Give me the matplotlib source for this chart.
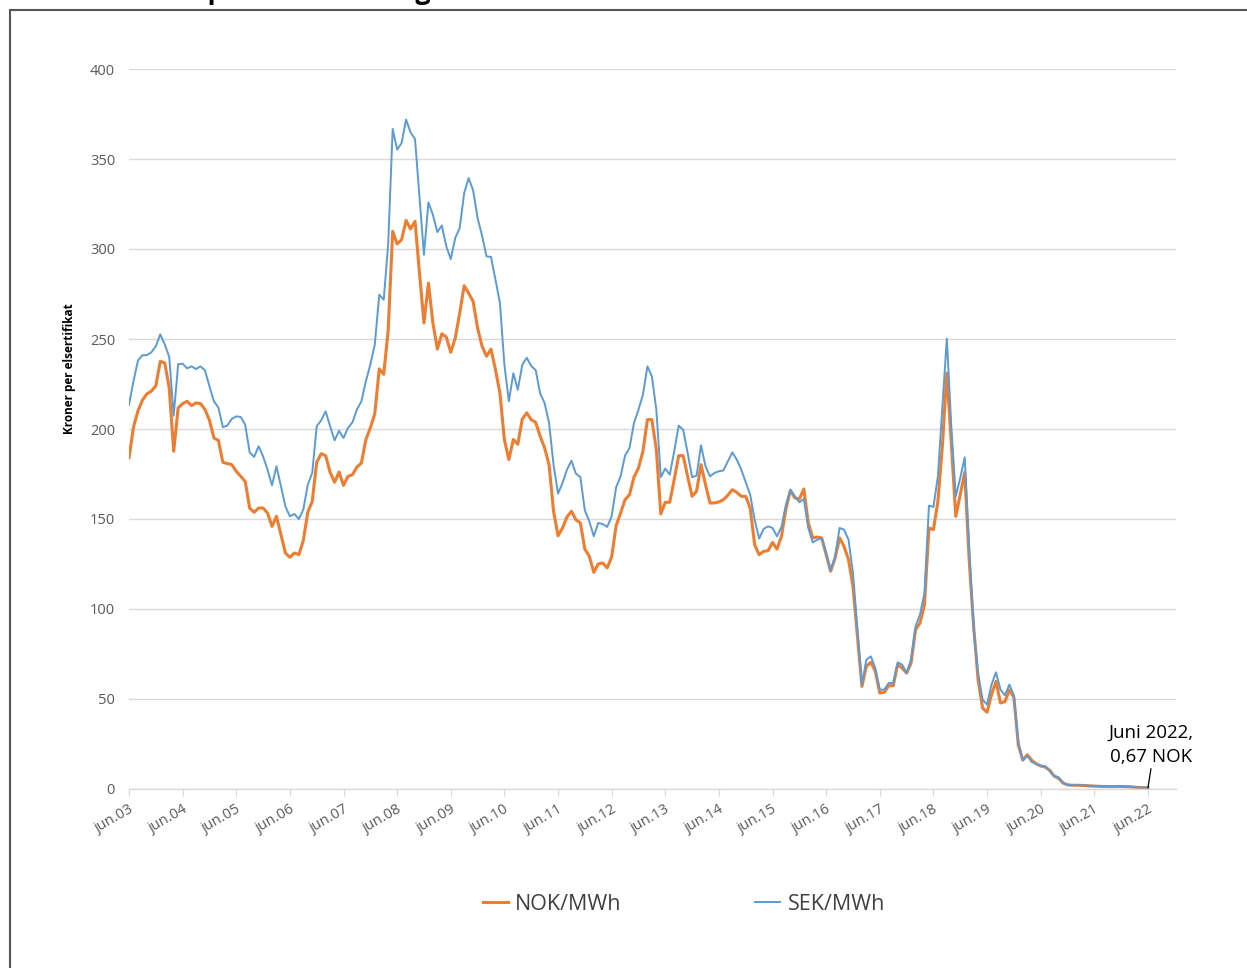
import numpy as np
import matplotlib
matplotlib.use("Agg")
import matplotlib.pyplot as plt
from matplotlib.patches import Rectangle

plt.rcParams['font.family'] = ['Open Sans', 'DejaVu Sans']

# ---- data (monthly, index 0 = June 2003) ----
tick_years = list(range(2003, 2023))
tick_labels = [f"jun.{y % 100:02d}" for y in tick_years]

sek = [213.5, 226.5, 238, 241, 241, 242.6, 246, 252.6, 247, 240,
       207.4, 236, 236.3, 233.7, 234.8, 233.3, 234.8, 232.6, 223.7, 215.4,
       212, 201, 201.9, 205.6, 207, 206.7, 202.4, 187, 184.5, 190.4,
       184.8, 177.4, 168.7, 179.3, 168.2, 157, 151.5, 152.8, 150, 155.2,
       169, 175.6, 201.5, 204.8, 209.8, 201.5, 193.7, 199, 195, 200.6,
       203.7, 210.8, 215.4, 226.5, 235.8, 247, 274.6, 271.8, 303, 366.7,
       355.2, 358.9, 371.9, 364.8, 361.1, 329.3, 296.8, 325.9, 319, 309.4,
       313, 301.5, 294.4, 306.1, 311.7, 331.1, 339.4, 332.6, 317.2, 307.4,
       295.9, 295.6, 283, 270, 235.7, 215.4, 231, 221.8, 235.6, 239.6,
       235, 232.7, 219.8, 214.4, 203.3, 180, 164.1, 170, 177.4, 182.4,
       175.2, 173.3, 154.8, 148.7, 140.4, 147.8, 147.2, 145.6, 151.5, 167.6,
       173.7, 185.2, 189.5, 203.4, 210.7, 219.1, 234.8, 229.3, 210.7, 173.3,
       178, 174.6, 187.6, 201.9, 199.6, 186.7, 173.2, 174.1, 190.9, 179.3,
       173.7, 175.6, 176.5, 177, 182, 187, 183, 177.4, 170.4, 163.5,
       149.6, 139.1, 144.5, 145.9, 145, 140.4, 145.6, 158, 166.3, 162.6,
       159.3, 161.1, 145, 137, 138.5, 139.5, 131.1, 121.5, 129.3, 145,
       144.1, 138.5, 120, 88.5, 58, 71.9, 73.7, 67.2, 55.2, 55.2,
       58.9, 58.9, 70.4, 69.1, 64.4, 71.9, 90.4, 96.9, 108.9, 157.4,
       156.7, 173.7, 211.7, 250.2, 201.5, 162.6, 172.8, 184.3, 134.8, 88.5,
       64.4, 49.6, 46.9, 58, 64.8, 55.2, 52, 58, 52, 26,
       16, 18.5, 15, 14, 13, 12.7, 10, 7.2, 6.5, 3.5,
       2.3, 2.2, 2.2, 2.1, 2.0, 1.8, 1.7, 1.6, 1.5, 1.5,
       1.4, 1.5, 1.5, 1.4, 1.3, 1.1, 0.9, 0.8, 0.7]

nok = [184, 201, 210, 216, 219.5, 221, 224, 237.6, 236.7, 222.8,
       187.6, 211.7, 214.1, 215.4, 213, 214.5, 214.1, 210.8, 204.8, 195,
       193.7, 181.5, 180.8, 180.2, 176.5, 173.7, 170.9, 156.1, 153.7, 156.1,
       156.1, 153.3, 145.9, 151.5, 141.3, 131.1, 128.7, 131.1, 130.2, 138,
       153.7, 159.8, 181.5, 186.3, 185.2, 175.9, 170.4, 176.1, 168.7, 173.7,
       174.6, 178.9, 181.1, 194.1, 200.6, 208.5, 233.4, 230.4, 255, 309.8,
       302.8, 305.2, 315.9, 311.1, 315.4, 286.7, 258.9, 281.1, 258.9, 244.4,
       252.9, 251.1, 242.6, 250.5, 264.4, 279.6, 275.5, 270.9, 256.1, 246,
       240.4, 244.4, 233, 220, 194, 183, 194.2, 191.5, 205.5, 209,
       205.2, 203.7, 196, 189.5, 180, 154.3, 140.7, 145, 151.1, 154.3,
       149.6, 147.8, 133.3, 129.3, 120.4, 125, 125.6, 122.8, 128.9, 146.3,
       153.3, 160.7, 163.5, 173.3, 178.3, 187.6, 205.2, 205.2, 188.5, 152.8,
       159.3, 159.3, 171.9, 185.2, 185.2, 173.7, 162.6, 165.4, 180.2, 169.1,
       158.9, 158.9, 159.5, 160.7, 163.2, 166.3, 164.8, 162.6, 162.6, 156.1,
       135.7, 130.2, 132, 132.4, 137, 133.3, 140.4, 155.6, 165.9, 161.7,
       161.1, 166.7, 147.8, 139.5, 140, 139.5, 130.2, 121, 128.3, 139.5,
       134.8, 127.4, 112.6, 84.8, 57, 68.2, 70.4, 65.4, 53.3, 53.7,
       57.4, 57.4, 69.1, 67.2, 64.4, 70, 88.5, 92.2, 102.4, 145,
       144.1, 159.8, 190.4, 231.1, 192.2, 151.5, 163.5, 175.9, 127.4, 90.4,
       60.7, 45, 42.6, 52.4, 59.8, 47.8, 48.5, 55, 51, 24.5,
       16, 19, 16, 14, 12.8, 12.2, 10.5, 7.2, 6, 3.3,
       2.3, 2.1, 2.1, 2.0, 1.9, 1.7, 1.6, 1.5, 1.4, 1.4,
       1.3, 1.4, 1.4, 1.3, 1.2, 1.0, 0.85, 0.75, 0.67]

months = np.arange(len(nok))
tick_pos = [(y - 2003) * 12 for y in tick_years]

W, H = 1247, 968
fig = plt.figure(figsize=(W / 100, H / 100), dpi=100)
ax = fig.add_axes([129 / W, 1 - 789 / H, (1176 - 129) / W, (789 - 69) / H])

ax.plot(months, nok, color='#ED7D31', lw=2.2, label='NOK/MWh', solid_joinstyle='round')
ax.plot(months, sek, color='#5B9BD5', lw=1.4, label='SEK/MWh', solid_joinstyle='round')

ax.set_xlim(0, (1176 - 129) / 4.469)
ax.set_ylim(0, 400)
ax.set_yticks(np.arange(0, 401, 50))
ax.grid(axis='y', color='#D9D9D9', lw=1)
ax.set_axisbelow(True)
for s in ['top', 'right', 'left']:
    ax.spines[s].set_visible(False)
ax.spines['bottom'].set_color('#D9D9D9')
ax.spines['bottom'].set_linewidth(1)
ax.tick_params(axis='y', length=0, pad=10, labelsize=10.5, labelcolor='#595959')
ax.set_xticks(tick_pos)
ax.set_xticklabels(tick_labels, rotation=30, ha='right', rotation_mode='anchor')
ax.tick_params(axis='x', length=5, color='#D9D9D9', pad=4, labelsize=10.5, labelcolor='#595959')

# annotation
ax.annotate('Juni 2022,\n0,67 NOK', xy=(months[-1], nok[-1]), xytext=(2.5, 31),
            textcoords='offset points', ha='center', va='center', fontsize=13.5,
            color='#000000', linespacing=1.45,
            arrowprops=dict(arrowstyle='-', color='black', lw=0.9, shrinkA=0, shrinkB=0,
                            relpos=(0.5, 0)))

# y-axis title
fig.text(70 / W, 1 - 369 / H, 'Kroner per elsertifikat', rotation=90, ha='center',
         va='center', fontsize=8.5, fontweight='bold', color='#000000')

# legend
fig.legend(loc='center', bbox_to_anchor=(684 / W, 1 - 904 / H), ncol=2, frameon=False,
           fontsize=15.5, handlelength=1.15, handletextpad=0.35, columnspacing=6.2,
           labelcolor='#404040')

# partially visible title (cut off at top, as in the reference)
fig.text(60 / W, 1 + 1.0 / H, 'Elsertifikatprisens utvikling', ha='left', va='baseline',
         fontsize=19.4, fontweight='bold', color='#000000')

# frame border
fig.add_artist(Rectangle((10 / W, -0.1), 1.2, 1.1 - 9.5 / H, transform=fig.transFigure,
                         fill=False, edgecolor='#555555', lw=1.5))

fig.savefig('out.png', dpi=100)
